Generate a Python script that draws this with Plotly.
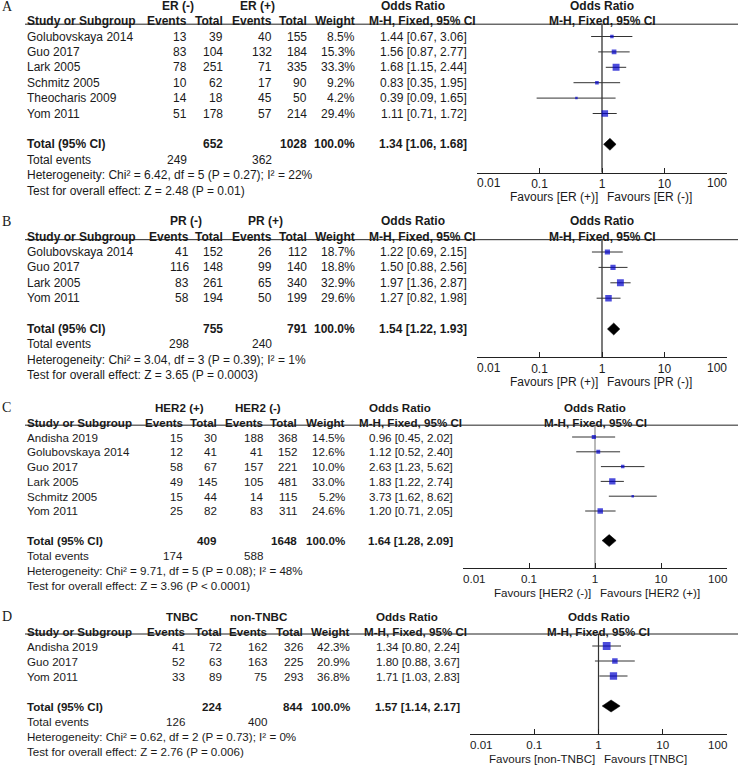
import math
import plotly.graph_objects as go

W, H = 738, 765

# ---------------- DATA ----------------
tick_vals = [0.01, 0.1, 1, 10, 100]
tick_text = ["0.01", "0.1", "1", "10", "100"]

# Panel A: ER
A_groups = ["ER (-)", "ER (+)"]
A_studies = ["Golubovskaya 2014", "Guo 2017", "Lark 2005", "Schmitz 2005", "Theocharis 2009", "Yom 2011"]
A_ev1 = [13, 83, 78, 10, 14, 51]
A_tot1 = [39, 104, 251, 62, 18, 178]
A_ev2 = [40, 132, 71, 17, 45, 57]
A_tot2 = [155, 184, 335, 90, 50, 214]
A_weight = [8.5, 15.3, 33.3, 9.2, 4.2, 29.4]
A_or = [1.44, 1.56, 1.68, 0.83, 0.39, 1.11]
A_lo = [0.67, 0.87, 1.15, 0.35, 0.09, 0.71]
A_hi = [3.06, 2.77, 2.44, 1.95, 1.65, 1.72]
A_totals = [652, 1028]
A_total_weight = 100.0
A_total_events = [249, 362]
A_pooled = [1.34, 1.06, 1.68]
A_het = [6.42, 5, "0.27", 22]
A_test = [2.48, "= 0.01"]
A_favours = ["Favours [ER (+)]", "Favours [ER (-)]"]

# Panel B: PR
B_groups = ["PR (-)", "PR (+)"]
B_studies = ["Golubovskaya 2014", "Guo 2017", "Lark 2005", "Yom 2011"]
B_ev1 = [41, 116, 83, 58]
B_tot1 = [152, 148, 261, 194]
B_ev2 = [26, 99, 65, 50]
B_tot2 = [112, 140, 340, 199]
B_weight = [18.7, 18.8, 32.9, 29.6]
B_or = [1.22, 1.50, 1.97, 1.27]
B_lo = [0.69, 0.88, 1.36, 0.82]
B_hi = [2.15, 2.56, 2.87, 1.98]
B_totals = [755, 791]
B_total_weight = 100.0
B_total_events = [298, 240]
B_pooled = [1.54, 1.22, 1.93]
B_het = [3.04, 3, "0.39", 1]
B_test = [3.65, "= 0.0003"]
B_favours = ["Favours [PR (+)]", "Favours [PR (-)]"]

# Panel C: HER2
C_groups = ["HER2 (+)", "HER2 (-)"]
C_studies = ["Andisha 2019", "Golubovskaya 2014", "Guo 2017", "Lark 2005", "Schmitz 2005", "Yom 2011"]
C_ev1 = [15, 12, 58, 49, 15, 25]
C_tot1 = [30, 41, 67, 145, 44, 82]
C_ev2 = [188, 41, 157, 105, 14, 83]
C_tot2 = [368, 152, 221, 481, 115, 311]
C_weight = [14.5, 12.6, 10.0, 33.0, 5.2, 24.6]
C_or = [0.96, 1.12, 2.63, 1.83, 3.73, 1.20]
C_lo = [0.45, 0.52, 1.23, 1.22, 1.62, 0.71]
C_hi = [2.02, 2.40, 5.62, 2.74, 8.62, 2.05]
C_totals = [409, 1648]
C_total_weight = 100.0
C_total_events = [174, 588]
C_pooled = [1.64, 1.28, 2.09]
C_het = [9.71, 5, "0.08", 48]
C_test = [3.96, "< 0.0001"]
C_favours = ["Favours [HER2 (-)]", "Favours [HER2 (+)]"]

# Panel D: TNBC
D_groups = ["TNBC", "non-TNBC"]
D_studies = ["Andisha 2019", "Guo 2017", "Yom 2011"]
D_ev1 = [41, 52, 33]
D_tot1 = [72, 63, 89]
D_ev2 = [162, 163, 75]
D_tot2 = [326, 225, 293]
D_weight = [42.3, 20.9, 36.8]
D_or = [1.34, 1.80, 1.71]
D_lo = [0.80, 0.88, 1.03]
D_hi = [2.24, 3.67, 2.83]
D_totals = [224, 844]
D_total_weight = 100.0
D_total_events = [126, 400]
D_pooled = [1.57, 1.14, 2.17]
D_het = [0.62, 2, "0.73", 0]
D_test = [2.76, "= 0.006"]
D_favours = ["Favours [non-TNBC]", "Favours [TNBC]"]

panels = [
    dict(label="A", groups=A_groups, studies=A_studies, ev1=A_ev1, tot1=A_tot1, ev2=A_ev2, tot2=A_tot2,
         weight=A_weight, orr=A_or, lo=A_lo, hi=A_hi, totals=A_totals, tw=A_total_weight, tev=A_total_events,
         pooled=A_pooled, het=A_het, test=A_test, favours=A_favours),
    dict(label="B", groups=B_groups, studies=B_studies, ev1=B_ev1, tot1=B_tot1, ev2=B_ev2, tot2=B_tot2,
         weight=B_weight, orr=B_or, lo=B_lo, hi=B_hi, totals=B_totals, tw=B_total_weight, tev=B_total_events,
         pooled=B_pooled, het=B_het, test=B_test, favours=B_favours),
    dict(label="C", groups=C_groups, studies=C_studies, ev1=C_ev1, tot1=C_tot1, ev2=C_ev2, tot2=C_tot2,
         weight=C_weight, orr=C_or, lo=C_lo, hi=C_hi, totals=C_totals, tw=C_total_weight, tev=C_total_events,
         pooled=C_pooled, het=C_het, test=C_test, favours=C_favours),
    dict(label="D", groups=D_groups, studies=D_studies, ev1=D_ev1, tot1=D_tot1, ev2=D_ev2, tot2=D_tot2,
         weight=D_weight, orr=D_or, lo=D_lo, hi=D_hi, totals=D_totals, tw=D_total_weight, tev=D_total_events,
         pooled=D_pooled, het=D_het, test=D_test, favours=D_favours),
]

# ---------------- LAYOUT (pixel geometry) ----------------
layouts = [
    dict(top=36.5, sp=15.4, cols=[187, 223, 272, 307, 355], or_right=467, or_hdr=(413, 422),
         x01=477, x100=727, grp=(178, 257), vcol="#222", fs=12, k=1.2, hdr_r=-1.95),
    dict(top=252, sp=15.4, cols=[189, 223, 272, 307, 355], or_right=467, or_hdr=(413, 422),
         x01=477, x100=727, grp=(186, 265), vcol="#222", fs=12, k=1.2, hdr_r=-2.0),
    dict(top=437, sp=14.8, cols=[183, 217, 263, 297, 345], or_right=453, or_hdr=(400, 410),
         x01=463, x100=727, grp=(179, 258), vcol="#8a8a8a", fs=11.6, k=1.1, hdr_r=-2.0),
    dict(top=646, sp=15.0, cols=[185, 222, 267, 303, 350], or_right=460, or_hdr=(407, 416),
         x01=470, x100=727, grp=(182, 259), vcol="#333", fs=11.6, k=1.2, hdr_r=-2.0),
]

FONT = "Liberation Sans, Arial, sans-serif"
SERIF = "Liberation Serif, Times New Roman, serif"
TXT = "#1a1a1a"
BLUE = "#0000cc"

fig = go.Figure()
annotations = []
shapes = []


def py(px):
    return 1 - px / H


for idx, (P, L) in enumerate(zip(panels, layouts), start=1):
    n = len(P["studies"])
    top, sp, fs = L["top"], L["sp"], L["fs"]
    line_r = -0.8
    axis_r = n + 2.85
    total_r = n + 1
    hr = L["hdr_r"]

    def rpx(r, top=top, sp=sp):
        return top + r * sp

    def txt(x_px, r, text, anchor="left", bold=False, size=fs, family=FONT):
        annotations.append(dict(
            x=x_px / W, y=py(rpx(r)), xref="paper", yref="paper",
            text=f"<b>{text}</b>" if bold else text, showarrow=False,
            xanchor=anchor, yanchor="middle", borderpad=0, borderwidth=0,
            font=dict(family=family, size=size, color=TXT)))

    xname = "x" if idx == 1 else f"x{idx}"
    yname = "y" if idx == 1 else f"y{idx}"
    xkey = "xaxis" if idx == 1 else f"xaxis{idx}"
    ykey = "yaxis" if idx == 1 else f"yaxis{idx}"

    # axes: end labels are drawn flush with the end ticks (as in the original), inner ones by the axis
    inner_text = [t if 0 < j < len(tick_text) - 1 else "" for j, t in enumerate(tick_text)]
    fig.layout[xkey] = dict(
        domain=[L["x01"] / W, L["x100"] / W], type="log",
        range=[math.log10(tick_vals[0]), math.log10(tick_vals[-1])], anchor=yname,
        showline=True, linecolor="#222", linewidth=1, ticks="inside", ticklen=5,
        tickcolor="#222", tickvals=tick_vals, ticktext=inner_text,
        tickfont=dict(family=FONT, size=fs, color=TXT), showgrid=False, zeroline=False,
        fixedrange=True)
    fig.layout[ykey] = dict(
        domain=[py(rpx(axis_r)), py(rpx(line_r))], range=[axis_r, line_r], anchor=xname,
        visible=False, showgrid=False, zeroline=False, fixedrange=True)

    tick_y = py(rpx(axis_r) + 10.5)
    for val, t, anc in [(tick_vals[0], tick_text[0], "left"), (tick_vals[-1], tick_text[-1], "right")]:
        annotations.append(dict(x=math.log10(val), y=tick_y, xref=xname, yref="paper", text=t,
                                showarrow=False, xanchor=anc, yanchor="middle", borderpad=0, borderwidth=0,
                                font=dict(family=FONT, size=fs, color=TXT)))

    # header rule
    shapes.append(dict(type="line", xref="paper", yref="paper", x0=25 / W, x1=1,
                       y0=py(rpx(line_r)), y1=py(rpx(line_r)), line=dict(color="#222", width=1)))

    # no-effect line
    fig.add_trace(go.Scatter(x=[1, 1], y=[line_r, axis_r], mode="lines", xaxis=xname, yaxis=yname,
                             line=dict(color=L["vcol"], width=1.2), hoverinfo="skip", showlegend=False))

    # CI lines
    cx, cy = [], []
    for i in range(n):
        cx += [P["lo"][i], P["hi"][i], None]
        cy += [i, i, None]
    fig.add_trace(go.Scatter(x=cx, y=cy, mode="lines", xaxis=xname, yaxis=yname,
                             line=dict(color="#333", width=1), hoverinfo="skip", showlegend=False))
    # squares
    sizes = [max(2.5, L["k"] * math.sqrt(w)) for w in P["weight"]]
    fig.add_trace(go.Scatter(x=P["orr"], y=list(range(n)), mode="markers", xaxis=xname, yaxis=yname,
                             marker=dict(symbol="square", size=sizes, color=BLUE, line=dict(width=0)),
                             hoverinfo="skip", showlegend=False))
    # diamond
    est, plo, phi = P["pooled"]
    h = 6.0 / sp
    fig.add_trace(go.Scatter(x=[plo, est, phi, est, plo], y=[total_r, total_r - h, total_r, total_r + h, total_r],
                             mode="lines", fill="toself", fillcolor="black", xaxis=xname, yaxis=yname,
                             line=dict(color="black", width=0.5), hoverinfo="skip", showlegend=False))

    # panel label
    txt(2, hr, P["label"], family=SERIF, size=14)
    # group headers
    txt(L["grp"][0], hr, P["groups"][0], anchor="center", bold=True)
    txt(L["grp"][1], hr, P["groups"][1], anchor="center", bold=True)
    # column headers
    txt(27, -1, "Study or Subgroup", bold=True)
    for c, name in zip(L["cols"], ["Events", "Total", "Events", "Total", "Weight"]):
        txt(c, -1, name, anchor="right", bold=True)
    txt(L["or_hdr"][0], hr, "Odds Ratio", anchor="center", bold=True)
    txt(L["or_hdr"][1], -1, "M-H, Fixed, 95% CI", anchor="center", bold=True)
    # forest headers centered at OR = 1 (log axis -> exponent 0)
    for r, t in [(hr, "Odds Ratio"), (-1, "M-H, Fixed, 95% CI")]:
        annotations.append(dict(x=math.log10(1), y=py(rpx(r)), xref=xname, yref="paper",
                                text=f"<b>{t}</b>", showarrow=False, xanchor="center", yanchor="middle",
                                borderpad=0, borderwidth=0, font=dict(family=FONT, size=fs, color=TXT)))

    # study rows
    for i in range(n):
        txt(27, i, P["studies"][i])
        vals = [str(P["ev1"][i]), str(P["tot1"][i]), str(P["ev2"][i]), str(P["tot2"][i]),
                f"{P['weight'][i]:.1f}%"]
        for c, v in zip(L["cols"], vals):
            txt(c, i, v, anchor="right")
        txt(L["or_right"], i, f"{P['orr'][i]:.2f} [{P['lo'][i]:.2f}, {P['hi'][i]:.2f}]", anchor="right")

    # total row
    txt(27, total_r, "Total (95% CI)", bold=True)
    txt(L["cols"][1], total_r, str(P["totals"][0]), anchor="right", bold=True)
    txt(L["cols"][3], total_r, str(P["totals"][1]), anchor="right", bold=True)
    txt(L["cols"][4], total_r, f"{P['tw']:.1f}%", anchor="right", bold=True)
    txt(L["or_right"], total_r, f"{est:.2f} [{plo:.2f}, {phi:.2f}]", anchor="right", bold=True)

    txt(27, total_r + 1, "Total events")
    txt(L["cols"][0], total_r + 1, str(P["tev"][0]), anchor="right")
    txt(L["cols"][2], total_r + 1, str(P["tev"][1]), anchor="right")
    chi, df, ph, i2 = P["het"]
    txt(27, total_r + 2, f"Heterogeneity: Chi² = {chi:.2f}, df = {df} (P = {ph}); I² = {i2}%")
    z, pz = P["test"]
    txt(27, total_r + 3, f"Test for overall effect: Z = {z:.2f} (P {pz})")

    # favours labels
    fav_y = py(rpx(axis_r) + 24.5)
    annotations.append(dict(x=0, y=fav_y, xref=xname, yref="paper", text=P["favours"][0], showarrow=False,
                            xanchor="right", yanchor="middle", xshift=-4, borderpad=0, borderwidth=0,
                            font=dict(family=FONT, size=fs, color=TXT)))
    annotations.append(dict(x=0, y=fav_y, xref=xname, yref="paper", text=P["favours"][1], showarrow=False,
                            xanchor="left", yanchor="middle", xshift=5, borderpad=0, borderwidth=0,
                            font=dict(family=FONT, size=fs, color=TXT)))

fig.update_layout(
    width=W, height=H, margin=dict(l=0, r=0, t=0, b=0),
    paper_bgcolor="white", plot_bgcolor="rgba(0,0,0,0)",
    showlegend=False, annotations=annotations, shapes=shapes,
    font=dict(family=FONT, color=TXT),
)

fig.write_html("out.html", config={"displayModeBar": False},
               post_script="document.body.style.margin='0px';document.body.style.overflow='hidden';")
